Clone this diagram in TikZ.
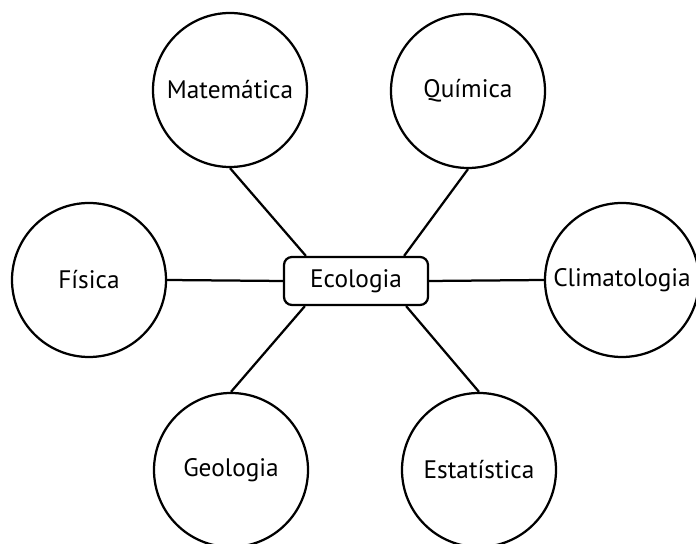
\documentclass[tikz,border=0pt]{standalone}
\usepackage{fontspec}
\setmainfont{PT Sans}
\usepackage{tikz}
\usetikzlibrary{positioning,calc}

\begin{document}
\begin{tikzpicture}[line width=1.6pt,
		field/.style={circle, draw, minimum size=3.85cm, inner sep=0pt, font=\fontsize{18}{21}\selectfont},
		core/.style={rectangle, rounded corners=0.2cm, draw, minimum width=3.6cm, minimum height=1.2cm, font=\fontsize{18}{21}\selectfont}]
		\useasboundingbox (0,0) rectangle (17.4,13.6);
		
		% Central node
		\node[core] (eco) at (8.9,6.575) {Ecologia};
		
		% Surrounding fields
		\node[field] (mat) at (5.75,11.35) {Matemática};
		\node[field] (qui) at (11.7,11.325) {Química};
		\node[field] (fis) at (2.225,6.6) {Física};
		\node[field] (cli) at (15.55,6.6) {Climatologia};
		\node[field] (geo) at (5.775,1.85) {Geologia};
		\node[field] (est) at (11.975,1.85) {Estatística};
		
		% Attachment points on the box
		\coordinate (eNW) at ([xshift=0.575cm]eco.north west);
		\coordinate (eNE) at ([xshift=-0.625cm]eco.north east);
		\coordinate (eSW) at ([xshift=0.55cm]eco.south west);
		\coordinate (eSE) at ([xshift=-0.575cm]eco.south east);
		
		% connections
		\draw (mat.south) -- (eNW);
		\draw (qui.south) -- (eNE);
		\draw (fis.east) -- (eco.west);
		\draw (eco.east) -- (cli.west);
		\draw (eSW) -- (geo.north);
		\draw (eSE) -- (est.north);
	\end{tikzpicture}
\end{document}
